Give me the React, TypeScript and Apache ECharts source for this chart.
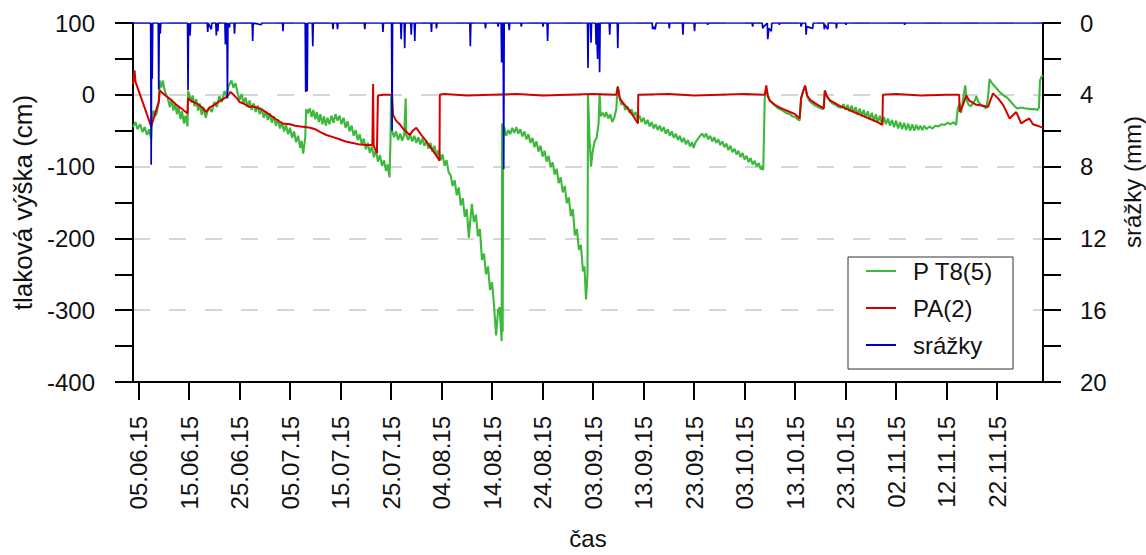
import React, { useEffect, useRef } from 'react';
import * as echarts from 'echarts';

// x values are days counted from 05.06.15 00:00
const xTickDays = [0, 10, 20, 30, 40, 50, 60, 70, 80, 90, 100, 110, 120, 130, 140, 150, 160, 170];
const xTickLabels = ['05.06.15', '15.06.15', '25.06.15', '05.07.15', '15.07.15', '25.07.15', '04.08.15', '14.08.15', '24.08.15', '03.09.15', '13.09.15', '23.09.15', '03.10.15', '13.10.15', '23.10.15', '02.11.15', '12.11.15', '22.11.15'];

const seriesNames = ['P T8(5)', 'PA(2)', 'srážky'];

// P T8(5) – tlaková výška (cm)
const greenPT8 = [
  [-1.1, -45], [-0.6, -38], [-0.2, -48], [0.3, -41], [0.8, -52], [1.2, -45], [1.7, -56], [2.1, -48], [2.5, -62],
  [2.7, -30], [3.0, -22], [3.3, -30], [3.6, -25], [4.0, -10], [4.2, 20], [4.5, 10], [4.8, 20], [5.2, 5],
  [5.5, 0], [5.8, -5], [6.2, -17], [6.5, -6], [6.9, -22], [7.2, -11], [7.6, -27], [7.9, -16], [8.3, -34], [8.6, -23], [9.0, -40], [9.3, -29], [9.7, -44],
  [9.8, 5], [10.0, 2], [10.4, -10], [10.7, -1], [11.1, -16], [11.4, -6], [11.8, -22], [12.1, -12], [12.5, -28], [12.8, -17], [13.3, -32], [13.6, -24],
  [14.0, -18], [14.5, -24], [15.0, -10], [15.5, -17], [16.0, -2], [16.5, -10], [17.0, 5], [17.4, -2], [17.8, 12], [18.4, 20], [18.8, 10], [19.2, 16],
  [19.6, 3], [20.0, -7], [20.4, 1], [20.8, -12], [21.2, -4], [21.6, -17], [22.0, -8], [22.4, -21], [22.8, -12], [23.2, -24], [23.6, -15], [24.0, -27],
  [24.4, -19], [24.8, -32], [25.2, -23], [25.6, -35], [26.0, -26], [26.4, -39], [26.8, -30], [27.2, -43], [27.6, -34], [28.0, -47], [28.4, -38],
  [28.8, -51], [29.2, -42], [29.6, -55], [30.0, -46], [30.4, -60], [30.8, -51], [31.2, -66], [31.6, -57], [32.0, -74], [32.3, -64], [32.6, -82],
  [33.0, -60], [33.2, -20], [33.5, -26], [33.9, -19], [34.3, -31], [34.6, -21], [35.0, -34], [35.3, -24], [35.7, -38], [36.0, -27], [36.4, -41],
  [36.7, -30], [37.1, -43], [37.4, -32], [37.8, -41], [38.2, -29], [38.6, -39], [39.0, -27], [39.4, -36], [39.8, -29],
  [40.2, -41], [40.6, -32], [41.0, -46], [41.4, -37], [41.8, -51], [42.2, -43], [42.6, -57], [43.0, -49], [43.4, -63], [43.8, -55], [44.2, -69],
  [44.6, -61], [45.0, -76], [45.4, -67], [45.8, -81], [46.2, -72], [46.6, -87], [47.0, -77], [47.4, -93], [47.8, -84], [48.2, -99], [48.6, -91],
  [49.0, -106], [49.3, -97], [49.7, -115],
  [49.9, -60], [50.0, -2], [50.2, -50], [50.6, -59], [51.0, -51], [51.4, -63], [51.8, -54], [52.2, -64], [52.6, -56], [52.9, -5], [53.0, -55],
  [53.4, -63], [53.8, -55], [54.2, -65], [54.6, -57], [55.0, -67], [55.4, -59], [55.8, -69], [56.2, -61], [56.6, -71], [57.0, -64], [57.4, -75],
  [57.8, -67], [58.2, -79], [58.6, -71], [59.0, -85], [59.4, -77], [59.8, -91], [60.2, -83], [60.6, -99], [61.0, -91], [61.4, -108],
  [61.8, -112], [62.2, -127], [62.6, -119], [63.0, -140], [63.4, -129], [63.8, -154], [64.2, -144], [64.6, -170], [65.0, -159], [65.4, -199],
  [65.7, -175], [66.0, -152], [66.4, -177], [66.8, -167], [67.2, -197], [67.6, -187], [68.0, -230], [68.4, -221], [68.8, -250], [69.2, -239],
  [69.6, -272], [70.0, -261], [70.4, -294], [70.8, -335], [71.2, -300], [71.5, -296], [71.9, -343],
  [72.0, -40], [72.1, -330], [72.2, -60], [72.4, -45],
  [72.8, -57], [73.2, -49], [73.6, -55], [74.0, -46], [74.4, -53], [74.8, -45], [75.2, -54], [75.6, -48], [76.0, -58], [76.4, -51], [76.8, -62],
  [77.2, -55], [77.6, -67], [78.0, -60], [78.4, -73], [78.8, -65], [79.2, -79], [79.6, -71], [80.0, -86], [80.4, -78], [80.8, -93], [81.2, -85],
  [81.6, -101], [82.0, -94], [82.4, -111], [82.8, -103], [83.2, -123], [83.6, -115], [84.0, -136], [84.4, -127], [84.8, -151], [85.2, -143],
  [85.6, -169], [86.0, -159], [86.4, -196], [86.8, -187], [87.2, -216], [87.6, -209], [88.0, -246], [88.3, -239], [88.6, -285],
  [88.9, -250], [89.0, 0], [89.3, -60], [89.6, -100], [89.9, -80], [90.3, -65], [90.7, -60], [91.1, -40], [91.3, 2], [91.5, -30], [91.9, -25],
  [92.3, -31], [92.6, -24], [93.0, -33], [93.4, -27], [93.8, -38], [94.2, -32], [94.6, -20], [94.9, 12], [95.3, -5], [95.6, -14], [96.0, -11],
  [96.4, -21], [96.8, -16], [97.2, -25], [97.6, -20], [98.0, -29], [98.4, -24], [98.8, -34], [99.2, -29], [99.6, -38], [100.0, -32], [100.4, -41],
  [100.8, -35], [101.2, -44], [101.6, -38], [102.0, -47], [102.4, -41], [102.8, -49], [103.2, -43], [103.6, -51], [104.0, -45], [104.4, -54],
  [104.8, -48], [105.2, -57], [105.6, -51], [106.0, -60], [106.4, -54], [106.8, -63], [107.2, -57], [107.6, -66], [108.0, -60], [108.4, -69],
  [108.8, -63], [109.2, -72], [109.6, -66], [109.9, -74],
  [110.3, -66], [110.7, -62], [111.1, -58], [111.6, -54], [112.0, -59], [112.4, -54], [112.8, -62], [113.2, -57], [113.6, -65], [114.0, -59],
  [114.4, -67], [114.8, -62], [115.2, -70], [115.6, -65], [116.0, -73], [116.4, -68], [116.8, -77], [117.2, -71], [117.6, -80], [118.0, -75],
  [118.4, -83], [118.8, -78], [119.2, -87], [119.6, -81], [120.0, -90], [120.4, -85], [120.8, -94], [121.2, -88], [121.6, -97], [122.0, -92],
  [122.4, -100], [122.8, -95], [123.2, -104], [123.5, -99], [123.7, -105],
  [124.0, -5], [124.3, 8], [124.6, 0], [125.0, -8], [125.5, -12], [126.0, -15], [126.5, -18], [127.0, -20], [127.5, -22], [128.0, -24],
  [128.5, -26], [129.0, -27], [129.5, -30], [130.0, -31], [130.5, -34], [130.9, -36], [131.2, -5], [131.6, 5], [132.0, 12], [132.4, -2],
  [132.8, -8], [133.4, -12], [134.0, -15], [134.6, -17], [135.2, -19], [135.6, -20], [135.9, 6], [136.3, -2], [136.8, -8], [137.4, -12],
  [138.0, -14], [138.6, -17],
  [139.2, -18], [139.6, -13], [140.0, -21], [140.4, -14], [140.8, -23], [141.2, -15], [141.6, -25], [142.0, -17], [142.4, -28], [142.8, -19],
  [143.2, -30], [143.6, -21], [144.0, -32], [144.4, -23], [144.8, -34], [145.2, -25], [145.6, -37], [146.0, -27], [146.4, -39], [146.8, -29],
  [147.2, -41], [147.6, -31], [148.0, -41], [148.4, -33], [148.8, -43], [149.2, -35], [149.6, -45], [150.0, -36], [150.4, -47], [150.8, -38],
  [151.2, -48], [151.6, -39], [152.0, -49], [152.4, -40], [152.8, -50], [153.2, -41], [153.6, -50], [154.0, -42], [154.4, -49], [154.8, -43],
  [155.2, -49], [155.6, -43], [156.0, -48], [156.6, -44], [157.2, -47], [157.8, -43], [158.4, -44], [159.0, -41], [159.6, -42], [160.2, -39],
  [160.8, -41], [161.4, -38], [161.9, -42],
  [162.2, -20], [162.6, -12], [162.9, -25], [163.3, -5], [163.7, 13], [164.0, -8], [164.4, -14], [164.8, -16], [165.2, -12], [165.6, -8],
  [165.9, -2], [166.3, -10], [166.8, -14], [167.3, -16], [167.8, -19], [168.2, -5], [168.5, 22], [169.0, 16], [169.5, 12], [170.0, 8],
  [170.5, 4], [171.0, 1], [171.5, -2], [172.0, -4], [172.5, -8], [173.0, -12], [173.5, -16], [174.0, -19], [174.5, -18], [175.0, -18],
  [175.5, -19], [176.0, -19], [176.5, -20], [177.0, -20], [177.5, -20], [178.0, -21], [178.3, -18], [178.5, 20], [178.8, 25], [179.1, 27],
];

// PA(2) – tlaková výška (cm)
const redPA2 = [
  [-1.1, 15], [-0.8, 34], [-0.6, 18], [2.5, -44], [4.0, -10], [4.2, 6],
  [4.8, 2], [5.5, -2], [6.3, -6], [7.5, -14], [8.5, -19], [9.7, -26], [9.8, -5], [10.5, -9], [11.5, -12], [12.5, -17], [13.4, -24],
  [14.0, -18], [15.0, -14], [16.0, -9], [17.0, -5], [17.6, -2], [18.2, 4], [18.8, 0], [19.5, -5], [20.0, -10], [21.0, -13], [22.0, -17],
  [22.5, -16], [23.5, -18], [24.0, -19], [25.0, -23], [26.0, -28], [27.0, -33], [28.5, -40], [30.0, -41], [31.0, -43], [32.0, -44],
  [33.0, -45], [34.0, -46], [35.0, -48], [36.0, -52], [37.2, -56], [38.5, -59], [39.8, -62], [41.0, -65], [42.4, -67], [43.5, -69],
  [45.0, -70], [46.3, -70], [46.45, 15], [46.55, -70], [46.8, -75], [47.2, -81], [47.4, -1], [48.5, 0], [50.2, 0],
  [50.4, -28], [51.0, -36], [51.7, -41], [52.5, -48], [53.7, -56], [54.3, -50], [55.0, -46], [56.0, -56], [57.0, -65], [58.0, -75],
  [59.0, -85], [59.6, -92], [59.65, 0],
  [60.5, 1], [65, -1], [70, 0], [75, 1], [80, -1], [85, 0], [90, 1], [94.6, 0],
  [94.9, 11], [95.3, -5], [96.0, -12], [97.0, -20], [98.0, -30], [98.9, -40], [98.95, 0],
  [105, 1], [110, -1], [115, 0], [120, 1], [124.0, 0],
  [124.3, 13], [124.6, -2], [125.0, -8], [126, -14], [127, -18], [128, -21], [129, -24], [130, -27], [130.9, -33], [131.2, -5], [131.6, 5],
  [132.0, 13], [132.4, -1], [133, -7], [134, -12], [135, -16], [135.7, -19], [135.9, 6], [136.3, -2], [137, -8], [138, -12], [139, -16],
  [140, -19], [141, -22], [142, -25], [143, -28], [144, -31], [145, -34], [146, -37], [147.3, -42], [147.4, 0],
  [150, 1], [155, -1], [160, 0], [162.5, 0],
  [162.6, -24], [163.2, -15], [163.9, -1], [164.5, -8], [165.9, -14], [167.0, -15], [168.2, -17], [169.2, 2], [170.2, -5], [171.2, -14],
  [172.5, -33], [173.8, -24], [174.8, -40], [175.6, -36], [176.4, -33], [177.1, -41], [178.0, -43], [179.1, -46],
];

// srážky (mm)
const rainMm = [
  [-1.1, 0],
  [2.4, 0], [2.5, 7.9], [2.6, 0], [2.7, 3.1], [2.8, 0],
  [3.9, 0], [4.0, 3.7], [4.1, 0], [4.3, 0.6], [4.4, 0],
  [9.7, 0], [9.8, 3.75], [9.9, 0], [10.2, 0.7], [10.3, 0],
  [13.6, 0], [13.7, 0.5], [13.8, 0], [14.4, 0.35], [14.5, 0], [15.3, 0], [15.4, 0.7], [15.5, 0], [15.7, 0.45], [15.8, 0],
  [17.1, 0], [17.2, 1.2], [17.3, 0], [17.5, 0], [17.6, 4.2], [17.7, 0], [18.0, 0.25], [18.1, 0], [18.9, 0], [19.0, 0.6], [19.1, 0],
  [22.5, 0], [22.6, 1.0], [22.7, 0], [24.3, 0.1], [24.4, 0],
  [28.5, 0], [28.6, 0.45], [28.7, 0],
  [33.0, 0], [33.1, 3.85], [33.2, 0], [33.4, 3.8], [33.5, 0], [34.4, 0], [34.5, 1.3], [34.6, 0],
  [38.4, 0], [38.5, 0.35], [38.6, 0], [39.3, 0], [39.4, 0.35], [39.5, 0],
  [44.7, 0], [44.8, 0.35], [44.9, 0],
  [48.3, 0], [48.4, 0.5], [48.5, 0],
  [50.1, 0], [50.2, 6.0], [50.3, 0],
  [51.9, 0], [52.0, 0.9], [52.1, 0], [52.6, 0], [52.7, 1.4], [52.8, 0], [53.9, 0], [54.0, 0.65], [54.1, 0], [54.6, 0], [54.7, 1.0], [54.8, 0],
  [57.9, 0], [58.0, 0.5], [58.1, 0], [58.9, 0], [59.0, 0.3], [59.1, 0],
  [65.6, 0], [65.7, 1.3], [65.8, 0],
  [68.6, 0], [68.7, 0.3], [68.8, 0],
  [71.1, 0], [71.2, 0.2], [71.3, 0], [71.8, 0], [71.9, 2.2], [72.0, 0], [72.2, 0], [72.3, 8.15], [72.4, 0], [73.3, 0], [73.4, 0.4], [73.5, 0],
  [75.7, 0], [75.8, 0.2], [75.9, 0], [80.0, 0], [80.1, 0.2], [80.2, 0], [80.9, 0], [81.0, 1.0], [81.1, 0],
  [88.9, 0], [89.0, 2.5], [89.1, 0], [89.5, 0], [89.6, 1.1], [89.7, 0], [90.5, 0], [90.6, 1.2], [90.7, 0], [90.8, 0], [90.9, 2.0], [91.0, 0],
  [91.2, 0], [91.3, 2.75], [91.4, 0],
  [93.2, 0], [93.3, 0.65], [93.4, 0], [94.8, 0], [94.9, 1.4], [95.0, 0],
  [101.7, 0], [101.8, 0.35], [102.0, 0.2], [102.3, 0.35], [102.5, 0],
  [105.0, 0], [105.1, 0.3], [105.2, 0], [107.7, 0], [107.8, 0.65], [107.9, 0], [110.0, 0], [110.1, 0.45], [110.2, 0],
  [112.6, 0], [112.7, 0.1], [112.8, 0],
  [121.5, 0], [121.6, 0.2], [121.7, 0], [123.5, 0], [123.6, 0.3], [123.8, 0.2], [124.5, 0], [124.6, 0.9], [124.8, 0.3], [125.3, 0.45],
  [125.4, 0], [126.8, 0], [126.9, 0.1], [127.0, 0],
  [131.1, 0], [131.2, 0.2], [131.4, 0], [132.1, 0], [132.2, 0.65], [132.3, 0.2], [133.5, 0.3], [133.6, 0], [135.7, 0], [135.8, 0.35],
  [135.9, 0.1], [136.5, 0.35], [136.6, 0], [138.1, 0], [138.2, 0.3], [138.3, 0], [140.0, 0], [140.1, 0.1], [140.2, 0],
  [151.6, 0], [151.7, 0.1], [151.8, 0],
  [179.1, 0],
];

const FONT = "'Liberation Sans', Arial, sans-serif";
const TEXT = '#111';
const FS = 24;

export default function App() {
  const ref = useRef<HTMLDivElement>(null);

  useEffect(() => {
    if (!ref.current) return;
    const chart = echarts.init(ref.current, null, { renderer: 'svg' });
    const axisLineStyle = { color: '#000', width: 2 };
    chart.setOption({
      animation: false,
      backgroundColor: '#fff',
      textStyle: { fontFamily: FONT },
      grid: { left: 133, right: 103, top: 23, bottom: 167, containLabel: false },
      legend: {
        orient: 'vertical',
        left: 848,
        top: 257,
        data: seriesNames,
        icon: 'rect',
        itemWidth: 30,
        itemHeight: 2,
        itemGap: 13,
        padding: [2, 20, 12, 18],
        borderColor: '#333',
        borderWidth: 1,
        backgroundColor: '#fff',
        textStyle: { fontSize: FS, color: TEXT, fontFamily: FONT, lineHeight: 24, padding: [0, 0, 0, 12] },
      },
      xAxis: {
        type: 'value',
        min: -1.1,
        max: 179.1,
        name: 'čas',
        nameLocation: 'middle',
        nameGap: 144,
        nameTextStyle: { fontSize: FS, color: TEXT, fontFamily: FONT },
        axisLine: { show: true, onZero: false, lineStyle: axisLineStyle },
        axisTick: { show: true, length: 18, lineStyle: axisLineStyle, customValues: xTickDays },
        axisLabel: {
          customValues: xTickDays,
          rotate: 90,
          margin: 34,
          fontSize: FS,
          color: TEXT,
          fontFamily: FONT,
          formatter: (v: number) => {
            const i = xTickDays.indexOf(Math.round(v));
            return i >= 0 ? xTickLabels[i] : '';
          },
        },
        splitLine: { show: false },
      },
      yAxis: [
        {
          type: 'value',
          min: -400,
          max: 100,
          interval: 100,
          position: 'left',
          name: 'tlaková výška (cm)',
          nameLocation: 'middle',
          nameGap: 93,
          nameTextStyle: { fontSize: 26, color: TEXT, fontFamily: FONT },
          axisLine: { show: true, onZero: false, lineStyle: axisLineStyle },
          axisTick: { show: true, length: 18, lineStyle: axisLineStyle },
          minorTick: { show: true, splitNumber: 2, length: 18, lineStyle: axisLineStyle },
          axisLabel: { margin: 38, fontSize: FS, color: TEXT, fontFamily: FONT },
          splitLine: { show: true, lineStyle: { color: '#c8c8c8', width: 1.5, type: [17, 19] } },
        },
        {
          type: 'value',
          min: 0,
          max: 20,
          interval: 4,
          inverse: true,
          position: 'right',
          axisLine: { show: true, onZero: false, lineStyle: axisLineStyle },
          axisTick: { show: true, length: 18, lineStyle: axisLineStyle },
          minorTick: { show: true, splitNumber: 2, length: 18, lineStyle: axisLineStyle },
          axisLabel: { margin: 37, fontSize: FS, color: TEXT, fontFamily: FONT },
          splitLine: { show: false },
        },
      ],
      graphic: [
        {
          type: 'text',
          x: 1132,
          y: 182,
          rotation: Math.PI / 2,
          style: {
            text: 'srážky (mm)',
            fontSize: FS,
            fontFamily: FONT,
            fill: TEXT,
            textAlign: 'center',
            textVerticalAlign: 'middle',
          },
        },
      ],
      series: [
        {
          name: seriesNames[0],
          type: 'line',
          yAxisIndex: 0,
          data: greenPT8,
          showSymbol: false,
          symbol: 'none',
          color: '#3cb93c',
          lineStyle: { color: '#3cb93c', width: 2.1 },
          z: 2,
        },
        {
          name: seriesNames[1],
          type: 'line',
          yAxisIndex: 0,
          data: redPA2,
          showSymbol: false,
          symbol: 'none',
          color: '#d40000',
          lineStyle: { color: '#d40000', width: 2 },
          z: 3,
        },
        {
          name: seriesNames[2],
          type: 'line',
          yAxisIndex: 1,
          data: rainMm,
          showSymbol: false,
          symbol: 'none',
          color: '#0000cc',
          lineStyle: { color: '#0000cc', width: 1.7 },
          z: 4,
        },
      ],
    });
    return () => chart.dispose();
  }, []);

  return (
    <div
      ref={ref}
      style={{ position: 'fixed', left: 0, top: 0, width: 1146, height: 555, background: '#fff' }}
    />
  );
}
